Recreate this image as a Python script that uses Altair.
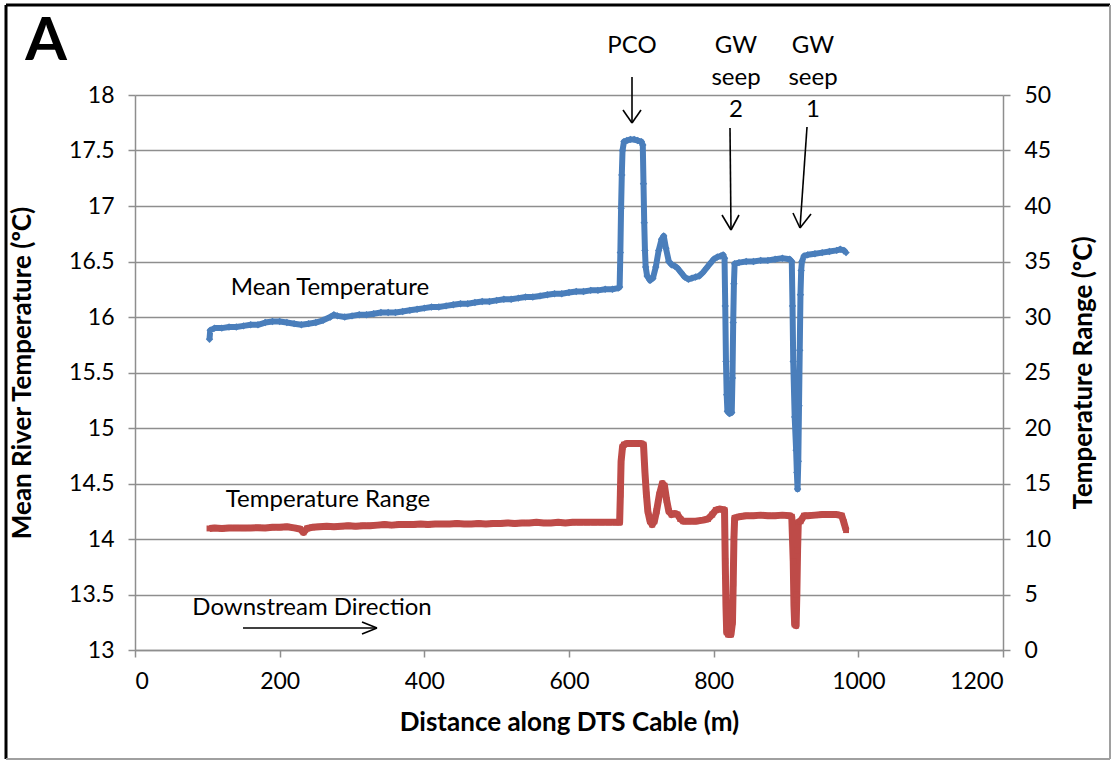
import altair as alt
import pandas as pd

# ---- data ----
dist_mean = [103, 104, 110, 120, 130, 140, 150, 160, 170, 180, 190, 200, 210, 220, 230, 240, 250, 260, 270, 275,
             280, 290, 300, 310, 320, 330, 340, 350, 360, 370, 380, 390, 400, 410, 420, 430, 440, 450, 460, 470,
             480, 490, 500, 510, 520, 530, 540, 550, 560, 570, 580, 590, 600, 610, 620, 630, 640, 650, 660, 668,
             670, 671, 672, 673, 674, 676, 680, 685, 690, 695, 700, 702, 703, 704, 705, 706, 708, 712, 716, 720,
             724, 728, 731, 734, 738, 742, 746, 750, 755, 760, 765, 770, 775, 780, 785, 790, 795, 800, 805, 810,
             813, 815, 816, 817, 818, 819, 822, 825, 826, 827, 828, 829, 835, 845, 855, 865, 875, 885, 895, 905,
             908, 909, 910, 912, 914, 915, 916, 917, 918, 919, 920, 921, 922, 925, 930, 940, 950, 960, 970, 975,
             980, 983]
mean_temp = [15.80, 15.88, 15.90, 15.90, 15.91, 15.91, 15.92, 15.93, 15.93, 15.95, 15.96, 15.96, 15.95, 15.94, 15.93, 15.94, 15.95, 15.97, 16.00, 16.02,
             16.01, 16.00, 16.01, 16.02, 16.02, 16.03, 16.04, 16.04, 16.04, 16.05, 16.06, 16.07, 16.08, 16.09, 16.09, 16.10, 16.11, 16.12, 16.12, 16.13,
             16.14, 16.14, 16.15, 16.16, 16.16, 16.17, 16.18, 16.18, 16.19, 16.20, 16.21, 16.21, 16.22, 16.23, 16.23, 16.24, 16.24, 16.25, 16.25, 16.26,
             16.27, 16.58, 16.98, 17.28, 17.50, 17.58, 17.59, 17.60, 17.60, 17.59, 17.58, 17.55, 17.20, 16.85, 16.60, 16.45, 16.37, 16.33, 16.35, 16.45,
             16.60, 16.70, 16.73, 16.62, 16.50, 16.47, 16.46, 16.44, 16.40, 16.36, 16.34, 16.35, 16.36, 16.37, 16.40, 16.44, 16.48, 16.52, 16.54, 16.55,
             16.56, 16.53, 16.10, 15.60, 15.30, 15.15, 15.13, 15.14, 15.45, 15.95, 16.30, 16.48, 16.49, 16.50, 16.50, 16.51, 16.51, 16.52, 16.53, 16.52,
             16.50, 16.10, 15.60, 15.10, 14.80, 14.60, 14.45, 14.70, 15.20, 15.70, 16.20, 16.42, 16.50, 16.55, 16.56, 16.57, 16.58, 16.59, 16.60, 16.61,
             16.60, 16.58]

dist_range = [103, 110, 120, 130, 140, 150, 160, 170, 180, 190, 200, 210, 220, 228, 233, 238, 245, 255, 265, 275,
              285, 295, 305, 315, 325, 335, 345, 355, 365, 375, 385, 395, 405, 415, 425, 435, 445, 455, 465, 475,
              485, 495, 505, 515, 525, 535, 545, 555, 565, 575, 585, 595, 605, 615, 625, 635, 645, 655, 665, 670,
              671, 672, 674, 676, 680, 690, 700, 703, 705, 707, 709, 712, 715, 718, 721, 725, 729, 732, 735, 738,
              742, 746, 750, 754, 758, 765, 775, 785, 792, 798, 803, 808, 813, 815, 816, 817, 818, 820, 824, 826,
              827, 828, 829, 835, 845, 855, 865, 875, 885, 895, 905, 908, 910, 911, 912, 914, 915, 916, 917, 920,
              925, 930, 940, 950, 960, 970, 977, 980, 983]
temp_range = [10.95, 11.0, 10.95, 11.0, 11.0, 10.98, 11.0, 11.02, 11.0, 11.05, 11.05, 11.1, 11.0, 10.9, 10.6, 10.95, 11.05, 11.1, 11.15, 11.1,
              11.15, 11.2, 11.15, 11.2, 11.2, 11.25, 11.3, 11.25, 11.3, 11.3, 11.3, 11.35, 11.3, 11.35, 11.35, 11.35, 11.4, 11.35, 11.35, 11.4,
              11.35, 11.4, 11.4, 11.45, 11.4, 11.45, 11.45, 11.5, 11.45, 11.45, 11.5, 11.45, 11.5, 11.5, 11.5, 11.5, 11.5, 11.5, 11.5, 11.5,
              14.0, 17.0, 18.3, 18.5, 18.6, 18.6, 18.6, 18.5, 16.0, 14.0, 12.5, 11.6, 11.3, 11.6, 12.5, 14.0, 15.0, 14.8, 13.5, 12.5,
              12.2, 12.3, 12.2, 11.8, 11.6, 11.6, 11.6, 11.7, 11.8, 12.2, 12.6, 12.7, 12.65, 12.6, 8.0, 4.0, 1.6, 1.4, 1.4, 2.5,
              6.0, 10.0, 11.9, 12.0, 12.1, 12.1, 12.15, 12.1, 12.1, 12.15, 12.1, 12.0, 8.0, 4.0, 2.3, 2.2, 5.0, 9.0, 11.5, 11.6,
              12.1, 12.1, 12.15, 12.2, 12.2, 12.2, 12.1, 11.5, 10.8]

x_ticks = [0, 200, 400, 600, 800, 1000, 1200]
left_ticks = [13, 13.5, 14, 14.5, 15, 15.5, 16, 16.5, 17, 17.5, 18]
right_ticks = [0, 5, 10, 15, 20, 25, 30, 35, 40, 45, 50]

# ---- style ----
W, H = 868, 555
FONT = "Lato"
BLUE = "#4A7EBB"
RED = "#BE4B48"
GRAY = "#8E8E8E"
ANN = 24

df_mean = pd.DataFrame({"d": dist_mean, "t": mean_temp})
df_range = pd.DataFrame({"d": dist_range, "r": temp_range})

x_enc = alt.X("d:Q", scale=alt.Scale(domain=[0, 1200], nice=False),
              axis=alt.Axis(values=x_ticks, format="d", title="Distance along DTS Cable (m)", grid=False,
                            titleY=72, titleBaseline="middle", labelPadding=13))

blue = alt.Chart(df_mean).mark_line(
    color=BLUE, strokeWidth=6, strokeJoin="round",
    point=alt.OverlayMarkDef(shape="diamond", size=55, filled=True, color=BLUE)
).encode(
    x=x_enc,
    y=alt.Y("t:Q", scale=alt.Scale(domain=[13, 18], nice=False, zero=False),
            axis=alt.Axis(values=left_ticks, format=".1~f", orient="left", grid=True, labelPadding=14,
                          title="Mean River Temperature (ºC)", titleAngle=270, titleX=-113, titleY=H / 2,
                          titleAlign="center", titleBaseline="middle"))
)

red = alt.Chart(df_range).mark_line(
    color=RED, strokeWidth=7, strokeJoin="round",
    point=alt.OverlayMarkDef(shape="square", size=35, filled=True, color=RED)
).encode(
    x=alt.X("d:Q"),
    y=alt.Y("r:Q", scale=alt.Scale(domain=[0, 50], nice=False, zero=False),
            axis=alt.Axis(values=right_ticks, format="d", orient="right", grid=False, labelPadding=14,
                          title="Temperature Range (ºC)", titleAngle=270, titleX=80, titleY=H / 2,
                          titleAlign="center", titleBaseline="middle"))
)

one = alt.Data(values=[{"k": 0}])


def txt(s, x, y, size=ANN, weight="normal", baseline="alphabetic", line_height=None):
    kw = dict(font=FONT, fontSize=size, fontWeight=weight, color="black", align="center", baseline=baseline)
    if line_height:
        kw["lineHeight"] = line_height
    return alt.Chart(one).mark_text(**kw).encode(x=alt.value(x), y=alt.value(y), text=alt.value(s))


def seg(x1, y1, x2, y2, color="black", w=1.6):
    return alt.Chart(one).mark_rule(color=color, strokeWidth=w).encode(
        x=alt.value(x1), y=alt.value(y1), x2=alt.value(x2), y2=alt.value(y2))


annots = [
    txt("A", -89, -35, size=60, weight="bold", baseline="alphabetic"),
    txt("PCO", 497, -42),
    txt(["GW", "seep", "2"], 601, -42, line_height=32),
    txt(["GW", "seep", "1"], 678, -42, line_height=32),
    txt("Mean Temperature", 195, 200),
    txt("Temperature Range", 193, 412),
    txt("Downstream Direction", 177, 520),
    # arrows
    seg(497, -18, 497, 28), seg(488, 15, 497, 28), seg(506, 15, 497, 28),
    seg(595, 33, 596, 135), seg(587, 120, 596, 135), seg(604, 120, 596, 135),
    seg(672, 32, 665, 133), seg(658, 118, 665, 133), seg(676, 119, 665, 133),
    seg(108, 533, 242, 533), seg(227, 527, 242, 533), seg(227, 539, 242, 533),
    # outer frame
    seg(-129, -90, -129, 664, color="black", w=3),
    seg(-129, -90, 975, -90, color="black", w=3),
    seg(975, -90, 975, 664, color="#A0A0A0", w=2),
    seg(-129, 664, 975, 664, color="#A0A0A0", w=2),
]

chart = alt.layer(blue, red, *annots).resolve_scale(y="independent").properties(
    width=W, height=H,
    autosize=alt.AutoSizeParams(type="none"),
    padding={"left": 135, "top": 95, "right": 111, "bottom": 111},
    background="white",
).configure_view(stroke=None).configure_axis(
    labelFont=FONT, labelFontSize=23, labelColor="black",
    titleFont=FONT, titleFontSize=26, titleFontWeight="bold", titleColor="black",
    domainColor=GRAY, domainWidth=1.5, tickColor=GRAY, tickWidth=1.5, tickSize=7,
    gridColor=GRAY, gridWidth=1.5,
)

chart.save("out.html", embed_options={"renderer": "svg", "actions": False})
